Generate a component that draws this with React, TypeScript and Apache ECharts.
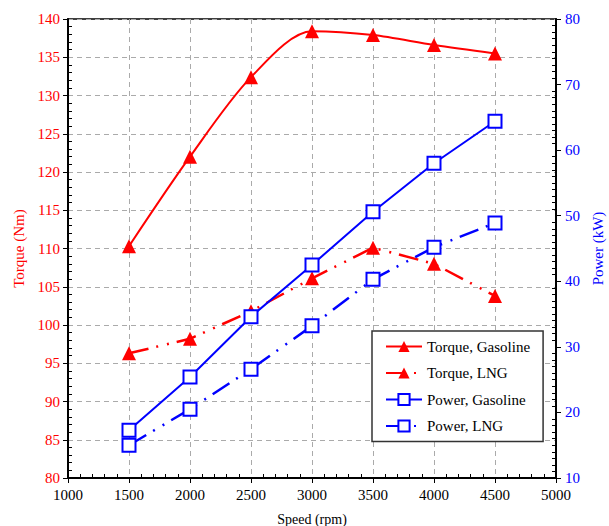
import React, { useEffect, useRef } from "react";
import * as echarts from "echarts";

const speeds = [1500, 2000, 2500, 3000, 3500, 4000, 4500];
const torqueGasoline = [110.3, 122.0, 132.4, 138.4, 137.9, 136.6, 135.5];
const torqueLNG = [96.3, 98.2, 101.8, 106.1, 110.1, 108.0, 103.8];
const powerGasoline = [17.3, 25.4, 34.6, 42.5, 50.6, 58.0, 64.4];
const powerLNG = [15.0, 20.5, 26.6, 33.2, 40.3, 45.2, 48.9];

const FONT = "Times New Roman, Liberation Serif, DejaVu Serif, serif";
const RED = "#ff0000";
const BLUE = "#0000ff";
const DASH = [20, 8, 2, 9, 2, 8];

export default function App() {
  const ref = useRef<HTMLDivElement>(null);
  useEffect(() => {
    const chart = echarts.init(ref.current!, null, { renderer: "svg" });
    const pairs = (ys: number[]) => speeds.map((s, i) => [s, ys[i]]);
    const tri = {
      symbol: "triangle",
      symbolSize: 14,
      itemStyle: { color: RED },
    };
    const sq = {
      symbol: "rect",
      symbolSize: 13,
      itemStyle: { color: "#fff", borderColor: BLUE, borderWidth: 2 },
    };
    const plain = (v: number) => String(v);
    chart.setOption({
      animation: false,
      textStyle: { fontFamily: FONT },
      grid: {
        left: 68,
        right: 53,
        top: 19,
        bottom: 48,
        outerBoundsMode: "none",
        containLabel: false,
        show: true,
        borderColor: "#000",
        borderWidth: 1.5,
      },
      legend: {
        orient: "vertical",
        left: 372,
        top: 331,
        width: 165,
        padding: [8, 13, 8, 13],
        itemWidth: 36,
        itemHeight: 14,
        itemGap: 11.5,
        borderColor: "#333",
        borderWidth: 1.5,
        backgroundColor: "#fff",
        textStyle: { fontFamily: FONT, fontSize: 15, color: "#000" },
        data: ["Torque, Gasoline", "Torque, LNG", "Power, Gasoline", "Power, LNG"],
      },
      xAxis: {
        type: "value",
        min: 1000,
        max: 5000,
        interval: 500,
        name: "Speed (rpm)",
        nameLocation: "middle",
        nameGap: 34,
        nameTextStyle: { fontFamily: FONT, fontSize: 14, color: "#000" },
        axisLine: { lineStyle: { color: "#000", width: 2 } },
        axisTick: { length: 5, lineStyle: { color: "#000" } },
        minorTick: { show: true, splitNumber: 5, length: -4, lineStyle: { color: "#000" } },
        axisLabel: { fontFamily: FONT, fontSize: 15, color: "#000", margin: 9, formatter: plain },
        splitLine: { show: true, lineStyle: { color: "#aaa", type: [5, 4] } },
      },
      yAxis: [
        {
          type: "value",
          min: 80,
          max: 140,
          interval: 5,
          name: "Torque (Nm)",
          nameLocation: "middle",
          nameGap: 39,
          nameTextStyle: { fontFamily: FONT, fontSize: 15, color: RED },
          axisLine: { show: true, lineStyle: { color: "#000", width: 2 } },
          axisTick: { show: true, length: 5, lineStyle: { color: "#000" } },
          minorTick: { show: true, splitNumber: 5, length: -4, lineStyle: { color: "#000" } },
          axisLabel: { fontFamily: FONT, fontSize: 15, color: RED, margin: 8, formatter: plain },
          splitLine: { show: true, lineStyle: { color: "#aaa", type: [5, 4] } },
        },
        {
          type: "value",
          min: 10,
          max: 80,
          interval: 10,
          position: "right",
          name: "Power (kW)",
          nameLocation: "middle",
          nameGap: 34,
          nameRotate: 90,
          nameTextStyle: { fontFamily: FONT, fontSize: 15, color: BLUE },
          axisLine: { show: true, lineStyle: { color: "#000", width: 2 } },
          axisTick: { show: true, length: 5, lineStyle: { color: "#000" } },
          minorTick: { show: true, splitNumber: 10, length: -4, lineStyle: { color: "#000" } },
          axisLabel: { fontFamily: FONT, fontSize: 15, color: BLUE, margin: 9, formatter: plain },
          splitLine: { show: false },
        },
      ],
      series: [
        {
          name: "Torque, Gasoline",
          type: "line",
          yAxisIndex: 0,
          smooth: 0.3,
          data: pairs(torqueGasoline),
          lineStyle: { color: RED, width: 2 },
          ...tri,
        },
        {
          name: "Torque, LNG",
          type: "line",
          yAxisIndex: 0,
          data: pairs(torqueLNG),
          lineStyle: { color: RED, width: 2.5, type: DASH },
          ...tri,
        },
        {
          name: "Power, Gasoline",
          type: "line",
          yAxisIndex: 1,
          data: pairs(powerGasoline),
          lineStyle: { color: BLUE, width: 2 },
          ...sq,
        },
        {
          name: "Power, LNG",
          type: "line",
          yAxisIndex: 1,
          data: pairs(powerLNG),
          lineStyle: { color: BLUE, width: 2.5, type: DASH },
          ...sq,
        },
      ],
    });
    return () => chart.dispose();
  }, []);
  return <div ref={ref} style={{ width: 609, height: 526, position: "absolute", left: 0, top: 0 }} />;
}
